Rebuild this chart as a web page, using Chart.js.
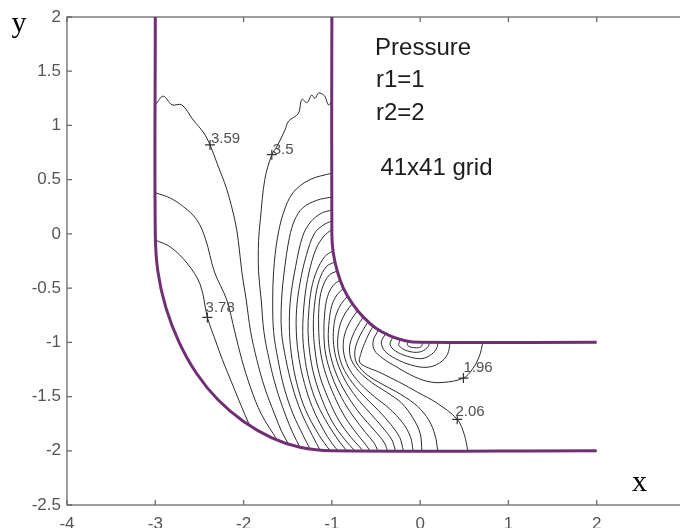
<!DOCTYPE html>
<html lang="en">
<head>
<meta charset="UTF-8">
<title>Pressure contours, 41x41 grid</title>
<script src="https://cdn.jsdelivr.net/npm/chart.js"></script>
<style>
  html, body { margin: 0; padding: 0; background: #fff; overflow: hidden; }
  #wrap { width: 680px; height: 528px; overflow: hidden; }
  canvas { display: block; }
</style>
</head>
<body>
<div id="wrap"><canvas id="chart" width="700" height="528"></canvas></div>
<script>
// axis ticks
const xTicks = [-4, -3, -2, -1, 0, 1, 2, 3];
const yTicks = [-2.5, -2, -1.5, -1, -0.5, 0, 0.5, 1, 1.5, 2];

// channel walls (r2 outer, r1 inner)
const outerWall = [[-3,2],[-3,0],[-2.97,-0.35],[-2.88,-0.68],[-2.73,-1.0],[-2.53,-1.29],[-2.29,-1.53],[-2.0,-1.73],[-1.68,-1.88],[-1.35,-1.97],[-1,-2],[2,-2]];
const innerWall = [[-1,2],[-1,0],[-0.985,-0.17],[-0.94,-0.34],[-0.87,-0.5],[-0.77,-0.64],[-0.64,-0.77],[-0.5,-0.87],[-0.34,-0.94],[-0.17,-0.985],[0,-1],[2,-1]];

// high pressure loops on the outer bend
const h1 = [[-2.99,-0.06],[-2.83,-0.12],[-2.64,-0.27],[-2.49,-0.47],[-2.41,-0.77],[-2.32,-0.98],[-2.24,-1.16],[-2.12,-1.40],[-2.03,-1.58],[-1.93,-1.77]];
const h2 = [[-3,0.38],[-2.83,0.33],[-2.68,0.25],[-2.53,0.13],[-2.43,-0.05],[-2.33,-0.35],[-2.19,-0.61],[-2.10,-0.90],[-2.02,-1.16],[-1.92,-1.42],[-1.80,-1.66],[-1.62,-1.90]];
const h3 = [[-3,1.19],[-2.91,1.27],[-2.81,1.19],[-2.70,1.19],[-2.57,1.05],[-2.45,0.93],[-2.38,0.82],[-2.30,0.65],[-2.19,0.41],[-2.10,0.13],[-2.06,-0.06],[-2.02,-0.35],[-1.97,-0.61],[-1.92,-0.90],[-1.85,-1.16],[-1.76,-1.42],[-1.65,-1.66],[-1.57,-1.82],[-1.49,-1.94]];

// contours running from the inner wall to the outer wall
const m1 = [[-1,1.22],[-1.04,1.19],[-1.08,1.27],[-1.15,1.30],[-1.19,1.25],[-1.23,1.28],[-1.28,1.21],[-1.34,1.24],[-1.38,1.11],[-1.49,1.04],[-1.53,0.96],[-1.62,0.81],[-1.68,0.73],[-1.76,0.50],[-1.81,0.13],[-1.83,-0.06],[-1.83,-0.35],[-1.80,-0.61],[-1.77,-0.90],[-1.71,-1.16],[-1.63,-1.42],[-1.53,-1.66],[-1.44,-1.84],[-1.36,-1.97]];
const m2 = [[-1,0.56],[-1.25,0.50],[-1.44,0.38],[-1.55,0.19],[-1.62,-0.055],[-1.66,-0.35],[-1.67,-0.61],[-1.66,-0.90],[-1.61,-1.16],[-1.54,-1.42],[-1.44,-1.66],[-1.33,-1.85],[-1.25,-1.98]];
const m3 = [[-1,0.34],[-1.17,0.31],[-1.33,0.24],[-1.42,0.13],[-1.48,-0.03],[-1.54,-0.35],[-1.57,-0.61],[-1.57,-0.90],[-1.52,-1.16],[-1.45,-1.40],[-1.35,-1.64],[-1.22,-1.86],[-1.13,-2]];
const m4 = [[-1,0.22],[-1.12,0.19],[-1.24,0.11],[-1.33,-0.02],[-1.41,-0.30],[-1.47,-0.61],[-1.48,-0.90],[-1.45,-1.16],[-1.39,-1.40],[-1.30,-1.62],[-1.15,-1.85],[-1.02,-2]];
const m5 = [[-1,0.12],[-1.10,0.08],[-1.20,0.0],[-1.29,-0.20],[-1.36,-0.45],[-1.40,-0.70],[-1.40,-0.95],[-1.37,-1.16],[-1.31,-1.38],[-1.22,-1.60],[-1.10,-1.80],[-1.00,-1.93],[-0.93,-2]];
const m6 = [[-1,0.04],[-1.09,-0.02],[-1.18,-0.14],[-1.26,-0.36],[-1.31,-0.61],[-1.33,-0.90],[-1.31,-1.12],[-1.26,-1.34],[-1.17,-1.56],[-1.04,-1.76],[-0.92,-1.91],[-0.83,-2]];
const m7 = [[-0.988,-0.156],[-1.08,-0.21],[-1.17,-0.34],[-1.23,-0.50],[-1.26,-0.70],[-1.27,-0.90],[-1.25,-1.10],[-1.20,-1.31],[-1.11,-1.53],[-0.99,-1.74],[-0.85,-1.90],[-0.74,-2]];
const m8 = [[-0.966,-0.259],[-1.06,-0.30],[-1.14,-0.42],[-1.19,-0.61],[-1.21,-0.85],[-1.19,-1.08],[-1.14,-1.30],[-1.04,-1.52],[-0.92,-1.72],[-0.78,-1.88],[-0.69,-1.96],[-0.65,-2]];
const m9 = [[-0.94,-0.342],[-1.03,-0.38],[-1.10,-0.48],[-1.14,-0.62],[-1.15,-0.85],[-1.13,-1.08],[-1.07,-1.29],[-0.97,-1.50],[-0.85,-1.69],[-0.71,-1.85],[-0.61,-1.95],[-0.57,-2]];
const m10 = [[-0.906,-0.423],[-0.99,-0.48],[-1.05,-0.58],[-1.08,-0.72],[-1.09,-0.92],[-1.07,-1.11],[-1.00,-1.31],[-0.89,-1.51],[-0.76,-1.68],[-0.62,-1.83],[-0.52,-1.93],[-0.48,-2]];
const m11 = [[-0.866,-0.5],[-0.94,-0.56],[-1.0,-0.66],[-1.03,-0.80],[-1.04,-0.97],[-1.01,-1.14],[-0.93,-1.33],[-0.81,-1.51],[-0.67,-1.67],[-0.52,-1.81],[-0.41,-1.92],[-0.37,-2]];
const m12 = [[-0.819,-0.574],[-0.89,-0.64],[-0.95,-0.74],[-0.98,-0.87],[-0.98,-1.02],[-0.94,-1.18],[-0.85,-1.35],[-0.72,-1.51],[-0.57,-1.65],[-0.43,-1.78],[-0.32,-1.90],[-0.28,-2]];
const m13 = [[-0.766,-0.643],[-0.84,-0.72],[-0.90,-0.82],[-0.93,-0.94],[-0.93,-1.07],[-0.88,-1.22],[-0.77,-1.37],[-0.62,-1.51],[-0.47,-1.63],[-0.33,-1.76],[-0.23,-1.88],[-0.19,-2]];
const m14 = [[-0.707,-0.707],[-0.78,-0.79],[-0.84,-0.89],[-0.87,-1.0],[-0.86,-1.12],[-0.80,-1.25],[-0.68,-1.38],[-0.52,-1.50],[-0.35,-1.61],[-0.20,-1.74],[-0.11,-1.87],[-0.08,-2]];
const m15 = [[-0.643,-0.766],[-0.71,-0.85],[-0.77,-0.95],[-0.80,-1.05],[-0.78,-1.16],[-0.69,-1.27],[-0.55,-1.37],[-0.38,-1.46],[-0.21,-1.56],[-0.08,-1.70],[0.0,-1.84],[0.02,-2]];
const m16 = [[-0.588,-0.809],[-0.65,-0.89],[-0.71,-0.99],[-0.74,-1.09],[-0.72,-1.19],[-0.60,-1.30],[-0.42,-1.39],[-0.22,-1.48],[-0.03,-1.59],[0.10,-1.72],[0.17,-1.86],[0.20,-2]];
const m17 = [[-0.53,-0.848],[-0.58,-0.92],[-0.63,-1.01],[-0.67,-1.10],[-0.68,-1.19],[-0.45,-1.28],[-0.23,-1.37],[-0.03,-1.46],[0.19,-1.56],[0.42,-1.71],[0.50,-1.85],[0.54,-2]];

// low pressure loops round the inner corner
const l1 = [[-0.469,-0.883],[-0.53,-0.98],[-0.52,-1.07],[-0.42,-1.15],[-0.26,-1.23],[-0.11,-1.30],[0.08,-1.36],[0.26,-1.37],[0.49,-1.33],[0.59,-1.25],[0.67,-1.13],[0.71,-1.0]];
const l2 = [[-0.391,-0.921],[-0.44,-1.0],[-0.40,-1.08],[-0.28,-1.15],[-0.10,-1.21],[0.08,-1.23],[0.22,-1.19],[0.31,-1.11],[0.34,-1.0]];
const l3 = [[-0.309,-0.951],[-0.34,-1.02],[-0.28,-1.08],[-0.14,-1.13],[0.02,-1.15],[0.13,-1.11],[0.19,-1.05],[0.20,-1.0]];
const l4 = [[-0.225,-0.974],[-0.24,-1.03],[-0.14,-1.08],[-0.01,-1.09],[0.08,-1.05],[0.11,-1.0]];
const l5 = [[-0.139,-0.990],[-0.14,-1.03],[-0.06,-1.05],[0.01,-1.04],[0.03,-1.0]];

// contour labels
const labelText = ['3.59', '3.5', '3.78', '1.96', '2.06'];
const labelX = [-2.37, -1.67, -2.43, 0.49, 0.40];
const labelY = [0.84, 0.74, -0.72, -1.27, -1.68];
const crossX = [-2.38, -1.68, -2.41, 0.49, 0.42];
const crossY = [0.82, 0.73, -0.77, -1.33, -1.71];

// text block
const noteText = ['Pressure', 'r1=1', 'r2=2', '41x41 grid'];
const noteX = [-0.51, -0.50, -0.50, -0.45];
const noteY = [1.65, 1.35, 1.05, 0.54];

const toXY = pts => pts.map(p => ({ x: p[0], y: p[1] }));

const datasets = [];
datasets.push({
    data: crossX.map((x, i) => ({ x: x, y: crossY[i] })),
    pointStyle: 'cross', pointRadius: 5, borderColor: '#333', borderWidth: 1.2, showLine: false
});
[outerWall, innerWall].forEach(w => datasets.push({
    data: toXY(w), showLine: true, borderColor: '#702f74', borderWidth: 3,
    pointRadius: 0, tension: 0.4, fill: false
}));
[h1, h2, h3, m1, m2, m3, m4, m5, m6, m7, m8, m9, m10, m11, m12, m13, m14, m15, m16, m17, l1, l2, l3, l4, l5].forEach(c => datasets.push({
    data: toXY(c), showLine: true, borderColor: '#2b2b2b', borderWidth: 1,
    pointRadius: 0, tension: 0.35, fill: false
}));

const annotate = {
    id: 'annotate',
    beforeDatasetsDraw(chart) {
        const { ctx, chartArea: a, scales: { x, y } } = chart;
        ctx.save();
        ctx.strokeStyle = '#6a6a6a';
        ctx.lineWidth = 1.3;
        ctx.strokeRect(a.left, a.top, a.right - a.left, a.bottom - a.top);
        ctx.beginPath();
        xTicks.forEach(v => {
            const px = x.getPixelForValue(v);
            ctx.moveTo(px, a.bottom); ctx.lineTo(px, a.bottom - 5);
            ctx.moveTo(px, a.top); ctx.lineTo(px, a.top + 5);
        });
        yTicks.forEach(v => {
            const py = y.getPixelForValue(v);
            ctx.moveTo(a.left, py); ctx.lineTo(a.left + 5, py);
            ctx.moveTo(a.right, py); ctx.lineTo(a.right - 5, py);
        });
        ctx.stroke();
        ctx.restore();
    },
    afterDatasetsDraw(chart) {
        const { ctx, scales: { x, y } } = chart;
        ctx.save();
        ctx.textAlign = 'left';
        ctx.textBaseline = 'alphabetic';
        ctx.fillStyle = '#505050';
        ctx.font = '15px "Liberation Sans"';
        labelText.forEach((t, i) => ctx.fillText(t, x.getPixelForValue(labelX[i]), y.getPixelForValue(labelY[i])));
        ctx.fillStyle = '#1c1c1c';
        ctx.font = '24px "Liberation Sans"';
        noteText.forEach((t, i) => ctx.fillText(t, x.getPixelForValue(noteX[i]), y.getPixelForValue(noteY[i])));
        ctx.fillStyle = '#000';
        ctx.font = '30px "Liberation Serif"';
        ctx.fillText('y', x.getPixelForValue(-4.63), y.getPixelForValue(1.86));
        ctx.fillText('x', x.getPixelForValue(2.40), y.getPixelForValue(-2.37));
        ctx.restore();
    }
};

new Chart(document.getElementById('chart'), {
    type: 'scatter',
    data: { datasets: datasets },
    options: {
        responsive: false,
        animation: false,
        layout: { padding: { top: 17, right: 15, left: 0, bottom: 0 } },
        plugins: { legend: { display: false }, tooltip: { enabled: false } },
        scales: {
            x: {
                type: 'linear', position: 'bottom', min: -4, max: 3,
                grid: { display: false, drawTicks: false },
                border: { display: false },
                afterBuildTicks: s => { s.ticks = xTicks.map(v => ({ value: v })); },
                afterFit: s => { s.height = 23; },
                ticks: {
                    font: { family: 'Liberation Sans', size: 17 }, color: '#555',
                    padding: 9, maxRotation: 0, autoSkip: false,
                    callback: v => String(v)
                }
            },
            y: {
                type: 'linear', position: 'left', min: -2.5, max: 2,
                grid: { display: false, drawTicks: false },
                border: { display: false },
                afterBuildTicks: s => { s.ticks = yTicks.map(v => ({ value: v })); },
                afterFit: s => { s.width = 67; },
                ticks: {
                    font: { family: 'Liberation Sans', size: 17 }, color: '#555',
                    padding: 6, autoSkip: false,
                    callback: v => String(v)
                }
            }
        }
    },
    plugins: [annotate]
});
</script>
</body>
</html>
